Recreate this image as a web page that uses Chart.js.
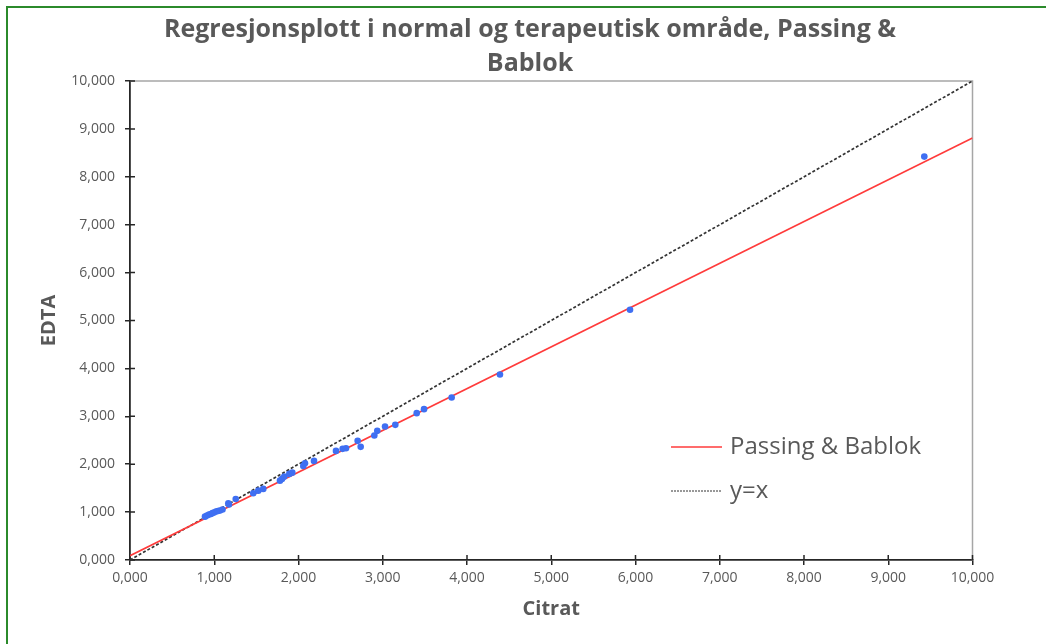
<!DOCTYPE html>
<html>
<head>
<meta charset="utf-8">
<title>Regresjonsplott</title>
<script src="https://cdn.jsdelivr.net/npm/chart.js@4"></script>
<style>
  html, body { margin: 0; padding: 0; background: #fff; }
  #wrap { width: 1046px; height: 644px; position: relative; }
</style>
</head>
<body>
<div id="wrap"><canvas id="regChart" width="1046" height="644"></canvas></div>
<script>
// measured values (citrat vs EDTA)
const citrat = [0.89, 0.914, 0.938, 0.961, 0.979, 0.997, 1.021, 1.044, 1.068, 1.098,
  1.167, 1.175, 1.255, 1.463, 1.523, 1.582, 1.78, 1.804, 1.831, 1.891, 1.926,
  2.057, 2.077, 2.184, 2.445, 2.524, 2.564, 2.702, 2.738, 2.9, 2.935, 3.027,
  3.149, 3.403, 3.49, 3.818, 4.391, 5.935, 9.428];
const edta = [0.905, 0.93, 0.951, 0.961, 0.982, 0.993, 1.014, 1.024, 1.034, 1.055,
  1.185, 1.16, 1.275, 1.394, 1.448, 1.484, 1.657, 1.693, 1.741, 1.797, 1.824,
  1.964, 2.021, 2.069, 2.278, 2.32, 2.334, 2.487, 2.362, 2.598, 2.696, 2.786,
  2.821, 3.066, 3.149, 3.392, 3.873, 5.225, 8.422];

// line endpoints
const lineX = [0, 10];
const passingBablok = [0.09, 8.81];
const identity = [0, 10];

const tickValues = [0, 1, 2, 3, 4, 5, 6, 7, 8, 9, 10];

const grey = "#595959";
const fontFam = "'Open Sans', Lato, sans-serif";

const toPoints = (xs, ys) => xs.map((x, i) => ({ x: x, y: ys[i] }));
const fmt = v => v.toFixed(3).replace(".", ",");
const setTicks = s => { s.ticks = tickValues.map(v => ({ value: v })); };

// green frame, grey top/right frame, inner tick halves, legend
const framePlugin = {
  id: "frame",
  beforeDraw(chart) {
    const ctx = chart.ctx;
    ctx.save();
    ctx.strokeStyle = "#2b8a2b";
    ctx.lineWidth = 2;
    ctx.beginPath();
    ctx.moveTo(7, chart.height);
    ctx.lineTo(7, 7);
    ctx.lineTo(chart.width, 7);
    ctx.stroke();
    ctx.restore();
  },
  beforeDatasetsDraw(chart) {
    const { ctx, chartArea: a, scales } = chart;
    ctx.save();
    ctx.strokeStyle = "#a6a6a6";
    ctx.lineWidth = 1.5;
    ctx.beginPath();
    ctx.moveTo(a.left, a.top);
    ctx.lineTo(a.right, a.top);
    ctx.lineTo(a.right, a.bottom);
    ctx.stroke();
    ctx.strokeStyle = "#262626";
    ctx.lineWidth = 1.5;
    ctx.beginPath();
    scales.x.ticks.forEach((t, i) => {
      const px = scales.x.getPixelForTick(i);
      ctx.moveTo(px, a.bottom);
      ctx.lineTo(px, a.bottom - 5);
    });
    scales.y.ticks.forEach((t, i) => {
      const py = scales.y.getPixelForTick(i);
      ctx.moveTo(a.left, py);
      ctx.lineTo(a.left + 5, py);
    });
    ctx.stroke();
    ctx.restore();
  },
  afterDraw(chart) {
    const { ctx, chartArea: a } = chart;
    const items = chart.data.datasets.filter(d => d.showLine);
    ctx.save();
    ctx.font = "24px " + fontFam;
    ctx.textBaseline = "middle";
    items.forEach((d, i) => {
      const y = a.top + 366 + i * 44;
      const x0 = a.left + 541;
      ctx.strokeStyle = d.borderColor;
      ctx.lineWidth = d.legendWidth;
      ctx.setLineDash(d.legendDash);
      ctx.beginPath();
      ctx.moveTo(x0, y);
      ctx.lineTo(x0 + 51, y);
      ctx.stroke();
      ctx.setLineDash([]);
      ctx.fillStyle = grey;
      ctx.fillText(d.label, x0 + 59, y);
    });
    ctx.restore();
  }
};

new Chart(document.getElementById("regChart").getContext("2d"), {
  type: "scatter",
  data: {
    datasets: [
      {
        label: "Data",
        data: toPoints(citrat, edta),
        backgroundColor: "#3f6ff2",
        borderColor: "#3f6ff2",
        pointRadius: 3.3,
        pointBorderWidth: 0
      },
      {
        label: "Passing & Bablok",
        data: toPoints(lineX, passingBablok),
        showLine: true,
        borderColor: "#ff3b3b",
        borderWidth: 1.6,
        pointRadius: 0,
        legendWidth: 1.6,
        legendDash: []
      },
      {
        label: "y=x",
        data: toPoints(lineX, identity),
        showLine: true,
        borderColor: "#333333",
        borderWidth: 1.7,
        borderDash: [3, 2],
        pointRadius: 0,
        legendWidth: 1,
        legendDash: [2, 1]
      }
    ]
  },
  options: {
    responsive: false,
    animation: false,
    layout: { padding: { left: 14, right: 0, top: 0, bottom: 0 } },
    plugins: {
      legend: { display: false },
      tooltip: { enabled: false },
      title: {
        display: true,
        text: ["Regresjonsplott i normal og terapeutisk område, Passing &", "Bablok"],
        color: grey,
        font: { family: fontFam, size: 25, weight: "bold", lineHeight: 1.36 },
        padding: { top: 13, bottom: 0 }
      }
    },
    scales: {
      x: {
        type: "linear",
        min: 0,
        max: 10,
        afterBuildTicks: setTicks,
        afterFit: s => { s.height = 84; },
        grid: { drawOnChartArea: false, tickLength: 5, color: "#262626", lineWidth: 1.5 },
        border: { color: "#262626", width: 1.8 },
        ticks: { callback: fmt, color: grey, padding: 5, maxRotation: 0,
                 font: { family: fontFam, size: 14 } },
        title: { display: true, text: "Citrat", color: grey,
                 font: { family: fontFam, size: 20, weight: "bold" },
                 padding: { top: 0, bottom: 23 } }
      },
      y: {
        type: "linear",
        min: 0,
        max: 10,
        afterBuildTicks: setTicks,
        afterFit: s => { s.width = 116; },
        grid: { drawOnChartArea: false, tickLength: 5, color: "#262626", lineWidth: 1.5 },
        border: { color: "#262626", width: 1.8 },
        ticks: { callback: fmt, color: grey, padding: 10,
                 font: { family: fontFam, size: 14 } },
        title: { display: true, text: "EDTA", color: grey,
                 font: { family: fontFam, size: 20, weight: "bold" },
                 padding: { top: 23, bottom: 0 } }
      },
      yRight: {
        type: "linear",
        position: "right",
        display: true,
        afterFit: s => { s.width = 73.5; },
        grid: { display: false },
        border: { display: false },
        ticks: { display: false }
      }
    }
  },
  plugins: [framePlugin]
});
</script>
</body>
</html>
